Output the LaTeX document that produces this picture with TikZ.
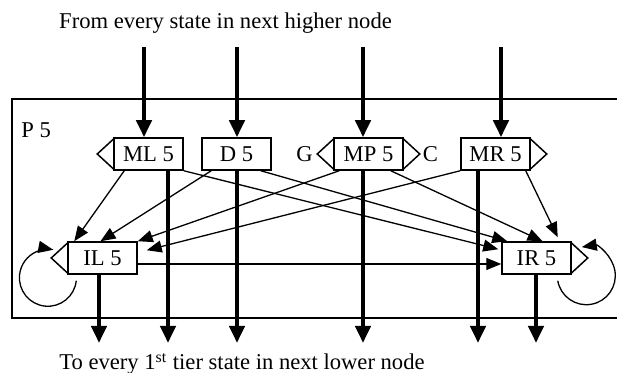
\documentclass[tikz,border=0pt]{standalone}
\usepackage{fontspec}
\setmainfont{Liberation Serif}
\usepackage{tikz}
\usetikzlibrary{arrows.meta}

\tikzset{
  state/.style={draw, line width=0.75pt, minimum width=34.5pt, minimum height=16pt, inner sep=0pt},
  flow/.style={line width=2pt, -{Triangle[length=8.5pt,width=7.5pt]}},
  trans/.style={line width=0.65pt, -{Triangle[length=7.5pt,width=6pt]}},
}

\begin{document}
\begin{tikzpicture}[x=0.5pt, y=0.5pt, font=\fontsize{11.3}{13.5}\selectfont]
  \useasboundingbox (0,0) rectangle (617,373);
  \def\ty{219}; %top row%
  \def\by{115}; %bottom row%

  \draw[line width=0.75pt] (617,274) -- (12,274) -- (12,55) -- (617,55); %node P 5%
  \node[anchor=base west, inner sep=0pt] (P5) at (21,235) {P 5};
  \node[anchor=base, inner sep=0pt] (from) at (225.5,344) {From every state in next higher node};
  \node[anchor=base, inner sep=0pt] (to) at (242,3) {To every 1\textsuperscript{st} tier state in next lower node};

  \node[state] (ML5) at (148.5,\ty) {ML 5};
  \node[state] (D5) at (236.5,\ty) {D 5};
  \node[state] (MP5) at (368.5,\ty) {MP 5};
  \node[state] (MR5) at (495.5,\ty) {MR 5};
  \node[state] (IL5) at (102.5,\by) {IL 5};
  \node[state] (IR5) at (536.5,\by) {IR 5};
  \node (G) at (304.5,\ty) {G};
  \node (C) at (430.5,\ty) {C};

  %pointers%
  \draw[line width=0.75pt] ([yshift=-1pt]ML5.north west) -- ([xshift=-8pt]ML5.west) -- ([yshift=1pt]ML5.south west);
  \draw[line width=0.75pt] ([yshift=-1pt]MP5.north west) -- ([xshift=-8pt]MP5.west) -- ([yshift=1pt]MP5.south west);
  \draw[line width=0.75pt] ([yshift=-1pt]MP5.north east) -- ([xshift=8pt]MP5.east) -- ([yshift=1pt]MP5.south east);
  \draw[line width=0.75pt] ([yshift=-1pt]MR5.north east) -- ([xshift=8pt]MR5.east) -- ([yshift=1pt]MR5.south east);
  \draw[line width=0.75pt] ([yshift=-1pt]IL5.north west) -- ([xshift=-8pt]IL5.west) -- ([yshift=1pt]IL5.south west);
  \draw[line width=0.75pt] ([yshift=-1pt]IR5.north east) -- ([xshift=8pt]IR5.east) -- ([yshift=1pt]IR5.south east);

  %from the higher node%
  \coordinate (inML) at (144,326);
  \coordinate (inD) at (237,326);
  \coordinate (inMP) at (363,326);
  \coordinate (inMR) at (501,326);
  \draw[flow] (inML) -- (inML |- ML5.north);
  \draw[flow] (inD) -- (inD |- D5.north);
  \draw[flow] (inMP) -- (inMP |- MP5.north);
  \draw[flow] (inMR) -- (inMR |- MR5.north);

  %to the lower node%
  \coordinate (outIL) at (99,30);
  \coordinate (outML) at (168,30);
  \coordinate (outD) at (237,30);
  \coordinate (outMP) at (363,30);
  \coordinate (outMR) at (478,30);
  \coordinate (outIR) at (536,30);
  \draw[flow] (outIL |- IL5.south) -- (outIL);
  \draw[flow] (outML |- ML5.south) -- (outML);
  \draw[flow] (outD |- D5.south) -- (outD);
  \draw[flow] (outMP |- MP5.south) -- (outMP);
  \draw[flow] (outMR |- MR5.south) -- (outMR);
  \draw[flow] (outIR |- IR5.south) -- (outIR);

  %transitions%
  \draw[trans] ([xshift=5.5pt]ML5.south west) -- ([xshift=3.5pt]IL5.north west);
  \draw[trans] ([xshift=5pt]D5.south west) -- ([xshift=-1pt]IL5.north);
  \draw[trans] ([xshift=3pt]MP5.south west) -- (IL5.north east);
  \draw[trans] (MR5.south west) -- ([xshift=4.5pt,yshift=-4.5pt]IL5.north east);
  \draw[trans] (ML5.south east) -- ([xshift=-1.5pt,yshift=-4pt]IR5.north west);
  \draw[trans] ([xshift=-5.5pt]D5.south east) -- ([xshift=3pt]IR5.north west);
  \draw[trans] ([xshift=-6.5pt]MP5.south east) -- ([xshift=3pt]IR5.north);
  \draw[trans] ([xshift=-2.5pt]MR5.south east) -- ([xshift=-7pt,yshift=2pt]IR5.north east);
  \draw[trans] ([yshift=-3pt]IL5.east) -- ([yshift=-3pt]IR5.west);

  %self loops%
  \draw[trans] ([xshift=4.5pt,yshift=-3pt]IL5.south west) arc[start angle=-6, end angle=-281, radius=14.25pt];
  \draw[trans] ([xshift=-7pt,yshift=-3pt]IR5.south east) arc[start angle=190, end angle=459, radius=14.5pt];
\end{tikzpicture}
\end{document}
